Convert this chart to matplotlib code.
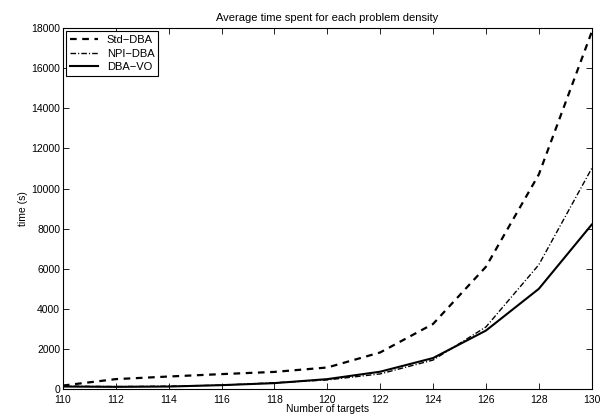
import matplotlib
matplotlib.use("Agg")
import matplotlib.pyplot as plt

targets = [110, 112, 114, 116, 118, 120, 122, 124, 126, 128, 130]
std_dba = [180, 500, 630, 750, 860, 1080, 1830, 3250, 6100, 10700, 17800]
npi_dba = [150, 130, 150, 200, 320, 460, 760, 1450, 3100, 6200, 11000]
dba_vo = [130, 115, 130, 200, 300, 500, 870, 1550, 2920, 5000, 8200]

plt.rcParams['font.family'] = ['Liberation Sans', 'DejaVu Sans']
plt.rcParams['font.size'] = 7.5

fig = plt.figure(figsize=(6.05, 4.18), dpi=100)
ax = fig.add_axes([0.104, 0.069, 0.874, 0.864])

ax.plot(targets, std_dba, color='black', linestyle=(0, (3, 2.5)), linewidth=1.6, label='Std\u2212DBA')
ax.plot(targets, npi_dba, color='black', linestyle=(0, (4, 1.5, 0.8, 1.5)), linewidth=1.0, label='NPI\u2212DBA')
ax.plot(targets, dba_vo, color='black', linestyle='-', linewidth=1.5, label='DBA\u2212VO')

ax.set_xlim(110, 130)
ax.set_ylim(0, 18000)
ax.set_xticks(range(110, 131, 2))
ax.set_yticks(range(0, 18001, 2000))
ax.tick_params(direction='in', top=True, right=True, length=4, width=0.6)
ax.tick_params(axis='x', pad=4.5)
ax.tick_params(axis='y', pad=2)
for s in ax.spines.values():
    s.set_linewidth(0.8)

ax.set_title('Average time spent for each problem density', fontsize=8, pad=5)
ax.set_xlabel('Number of targets', labelpad=-1)
ax.set_ylabel('time (s)', labelpad=2)

leg = ax.legend(loc='upper left', fancybox=False, edgecolor='black', framealpha=1, fontsize=8,
                handlelength=2.5, borderpad=0.35, labelspacing=0.3, borderaxespad=0.3)
leg.get_frame().set_linewidth(0.8)

fig.savefig('out.png', dpi=100)
